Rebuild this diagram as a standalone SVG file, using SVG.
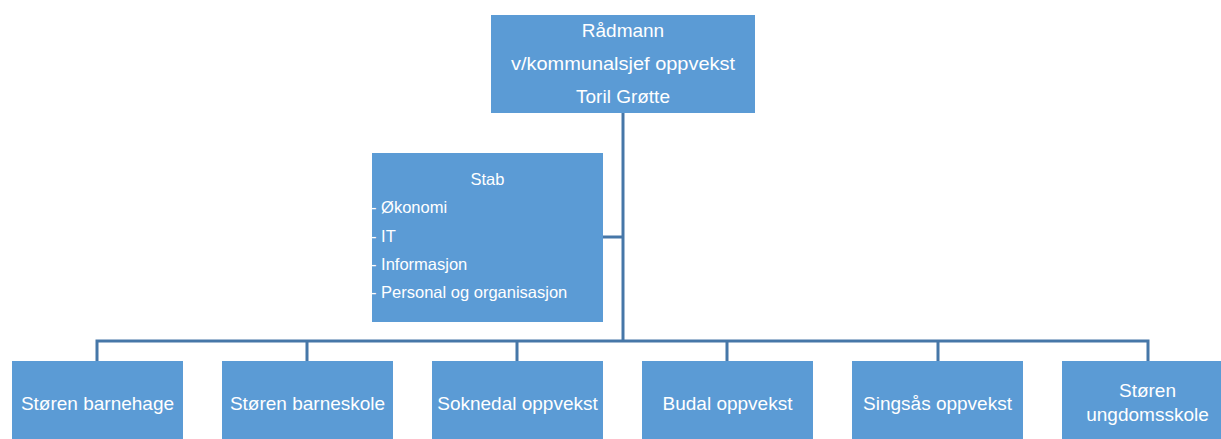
<svg xmlns="http://www.w3.org/2000/svg" width="1221" height="439" viewBox="0 0 1221 439">
<style>
.box{fill:#5b9bd5;}
.t{font-family:"Liberation Sans",Arial,sans-serif;fill:#ffffff;font-size:19px;text-anchor:middle;}
.s{font-family:"Liberation Sans",Arial,sans-serif;fill:#ffffff;font-size:16.5px;}
.c{stroke:#4677a8;stroke-width:3;fill:none;}
</style>
<rect width="1221" height="439" fill="#ffffff"/>
<g id="connectors">
<path class="c" d="M623,113 V341"/>
<path class="c" d="M603,237 H623"/>
<path class="c" d="M97,361 V341 H1148 V361"/>
<path class="c" d="M307,341 V361 M517,341 V361 M727,341 V361 M938,341 V361"/>
</g>
<g id="radmann">
<rect class="box" x="491" y="15" width="264" height="98"/>
<text class="t" x="623" y="37">Rådmann</text>
<text class="t" x="623" y="70" textLength="224" lengthAdjust="spacingAndGlyphs">v/kommunalsjef oppvekst</text>
<text class="t" x="623" y="103">Toril Grøtte</text>
</g>
<g id="stab">
<rect class="box" x="372" y="153" width="231" height="169"/>
<text class="s" x="487.5" y="185" text-anchor="middle">Stab</text>
<text class="s" x="371" y="213">- Økonomi</text>
<text class="s" x="371" y="242">- IT</text>
<text class="s" x="371" y="270">- Informasjon</text>
<text class="s" x="371" y="298">- Personal og organisasjon</text>
</g>
<g id="n1">
<rect class="box" x="12" y="361" width="171" height="80"/>
<text class="t" x="97.5" y="410">Støren barnehage</text>
</g>
<g id="n2">
<rect class="box" x="222" y="361" width="171" height="80"/>
<text class="t" x="307.5" y="410">Støren barneskole</text>
</g>
<g id="n3">
<rect class="box" x="432" y="361" width="171" height="80"/>
<text class="t" x="517.5" y="410">Soknedal oppvekst</text>
</g>
<g id="n4">
<rect class="box" x="642" y="361" width="171" height="80"/>
<text class="t" x="727.5" y="410">Budal oppvekst</text>
</g>
<g id="n5">
<rect class="box" x="852" y="361" width="171" height="80"/>
<text class="t" x="937.5" y="410">Singsås oppvekst</text>
</g>
<g id="n6">
<rect class="box" x="1062" y="361" width="171" height="80"/>
<text class="t" x="1147.5" y="397">Støren</text>
<text class="t" x="1147.5" y="421">ungdomsskole</text>
</g>
</svg>
